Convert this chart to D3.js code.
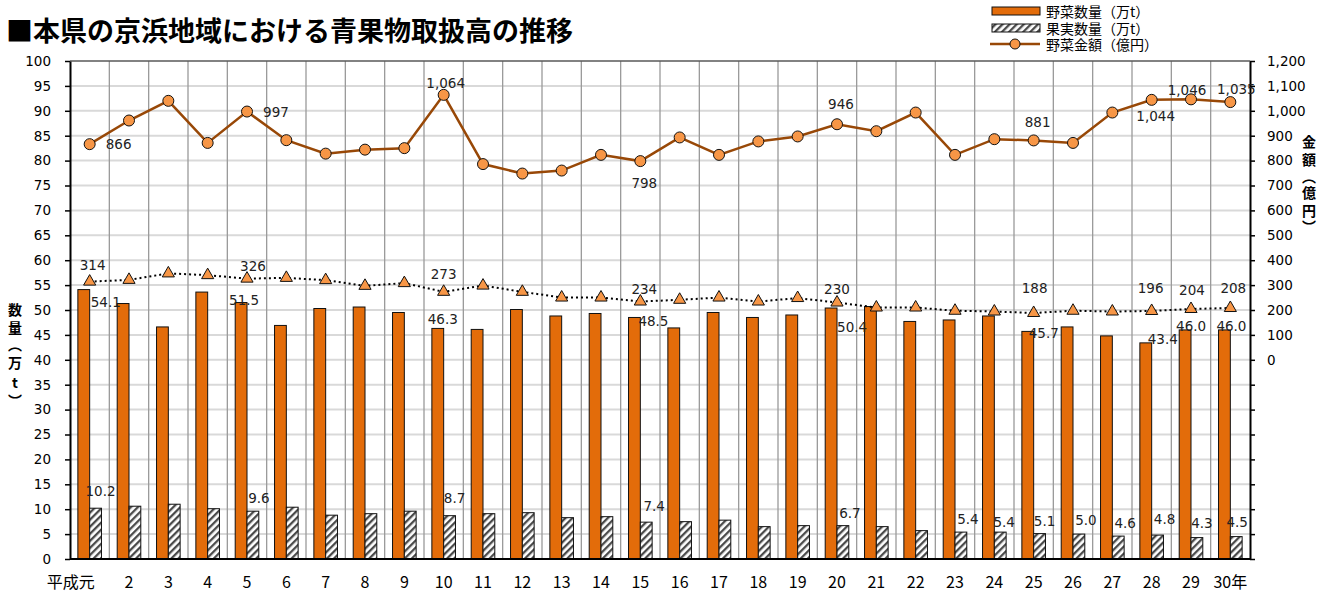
<!DOCTYPE html>
<html lang="ja">
<head>
<meta charset="UTF-8"/>
<title>本県の京浜地域における青果物取扱高の推移</title>
<script src="https://d3js.org/d3.v7.min.js"></script>
<style>
  body { margin: 0; background: #fff; }
  text { font-family: "DejaVu Sans", Verdana, sans-serif; }
  .jp { font-family: "Noto Sans CJK JP", sans-serif; }
</style>
</head>
<body>
<script>

// ---- data ----
var years = ["平成元", "2", "3", "4", "5", "6", "7", "8", "9", "10",
             "11", "12", "13", "14", "15", "16", "17", "18", "19", "20",
             "21", "22", "23", "24", "25", "26", "27", "28", "29", "30年"];

// 野菜数量 (万t)
var vegQty = [54.1, 51.3, 46.6, 53.6, 51.5, 46.9, 50.3, 50.6, 49.5, 46.3,
              46.1, 50.1, 48.8, 49.3, 48.5, 46.4, 49.5, 48.5, 49.0, 50.4,
              50.7, 47.7, 48.0, 48.8, 45.7, 46.6, 44.8, 43.4, 46.0, 46.0];

// 果実数量 (万t)
var fruitQty = [10.2, 10.6, 11.0, 10.1, 9.6, 10.4, 8.8, 9.1, 9.6, 8.7,
                9.1, 9.3, 8.3, 8.5, 7.4, 7.5, 7.8, 6.5, 6.7, 6.7,
                6.5, 5.7, 5.4, 5.4, 5.1, 5.0, 4.6, 4.8, 4.3, 4.5];

// 野菜金額 (億円)
var vegAmt = [866, 961, 1040, 871, 997, 882, 828, 844, 850, 1064,
              786, 748, 760, 823, 798, 893, 823, 877, 897, 946,
              918, 993, 823, 886, 881, 871, 993, 1044, 1046, 1035];

// 果実金額 (億円)
var fruitAmt = [314, 321, 347, 340, 326, 329, 320, 297, 308, 273,
                298, 273, 250, 250, 234, 241, 250, 234, 248, 230,
                210, 210, 197, 194, 188, 197, 194, 196, 204, 208];

var leftTicks = d3.range(0, 101, 5);
var rightTicks = d3.range(-800, 1201, 100);

var w = 1332;
var h = 595;

var pL = 70, pR = 1250, pT = 61, pB = 559;

var svg = d3.select("body")
            .append("svg")
            .attr("width", w)
            .attr("height", h);

var x = d3.scaleBand()
          .domain(d3.range(years.length))
          .range([pL, pR]);

var yL = d3.scaleLinear().domain([0, 100]).range([pB, pT]);
var yR = d3.scaleLinear().domain([-800, 1200]).range([pB, pT]);

var barW = x.bandwidth() * 0.3;
function cx(i) { return x(i) + x.bandwidth() / 2; }

// hatch pattern for 果実数量
var defs = svg.append("defs");
var pat = defs.append("pattern")
              .attr("id", "hatch")
              .attr("patternUnits", "userSpaceOnUse")
              .attr("width", 5)
              .attr("height", 5)
              .attr("patternTransform", "rotate(45)");
pat.append("rect").attr("width", 5).attr("height", 5).attr("fill", "#fff");
pat.append("rect").attr("width", 2.3).attr("height", 5).attr("fill", "#4a4a4a");

// title
svg.append("text")
   .attr("class", "jp")
   .attr("x", 6)
   .attr("y", 29)
   .attr("dominant-baseline", "central")
   .style("font-size", "27px")
   .style("font-weight", "bold")
   .text("■本県の京浜地域における青果物取扱高の推移");

// horizontal gridlines
svg.selectAll(".hgrid")
   .data(leftTicks.filter(function(d) { return d > 0 && d < 100; }))
   .enter()
   .append("line")
   .attr("x1", pL).attr("x2", pR)
   .attr("y1", function(d) { return yL(d); })
   .attr("y2", function(d) { return yL(d); })
   .attr("stroke", "#d9d9d9")
   .attr("stroke-width", 2);

// vertical gridlines between categories
svg.selectAll(".vgrid")
   .data(d3.range(1, years.length))
   .enter()
   .append("line")
   .attr("x1", function(d) { return x(d); })
   .attr("x2", function(d) { return x(d); })
   .attr("y1", pT).attr("y2", pB)
   .attr("stroke", "#9a9a9a")
   .attr("stroke-width", 1.3);

// top border
svg.append("line")
   .attr("x1", pL).attr("x2", pR)
   .attr("y1", pT).attr("y2", pT)
   .attr("stroke", "#595959")
   .attr("stroke-width", 1.5);

// bars
svg.selectAll(".veg")
   .data(vegQty)
   .enter()
   .append("rect")
   .attr("x", function(d, i) { return cx(i) - barW; })
   .attr("y", function(d) { return yL(d); })
   .attr("width", barW)
   .attr("height", function(d) { return pB - yL(d); })
   .attr("fill", "#e36c0a")
   .attr("stroke", "#111")
   .attr("stroke-width", 1);

svg.selectAll(".fruit")
   .data(fruitQty)
   .enter()
   .append("rect")
   .attr("x", function(d, i) { return cx(i); })
   .attr("y", function(d) { return yL(d); })
   .attr("width", barW)
   .attr("height", function(d) { return pB - yL(d); })
   .attr("fill", "url(#hatch)")
   .attr("stroke", "#111")
   .attr("stroke-width", 1);

// axes
var axL = svg.append("g")
             .attr("transform", "translate(" + pL + ",0)")
             .call(d3.axisLeft(yL).tickValues(leftTicks).tickSize(5).tickSizeOuter(0).tickPadding(14));
var axR = svg.append("g")
             .attr("transform", "translate(" + pR + ",0)")
             .call(d3.axisRight(yR).tickValues(rightTicks).tickSize(5).tickSizeOuter(0)
                     .tickPadding(12)
                     .tickFormat(function(d) { return d >= 0 ? d3.format(",")(d) : ""; }));
[axL, axR].forEach(function(g) {
  g.select(".domain").attr("stroke", "#000").attr("stroke-width", 2);
  g.selectAll(".tick line").attr("stroke", "#000").attr("stroke-width", 1.5);
  g.selectAll(".tick text").style("font-size", "13.5px").attr("fill", "#000");
});

svg.append("line")
   .attr("x1", pL).attr("x2", pR)
   .attr("y1", pB).attr("y2", pB)
   .attr("stroke", "#000")
   .attr("stroke-width", 2);

// category labels
svg.selectAll(".xlab")
   .data(years)
   .enter()
   .append("text")
   .attr("class", "jp")
   .attr("x", function(d, i) { return i === 0 ? cx(i) - 19 : cx(i); })
   .attr("y", 581)
   .attr("text-anchor", "middle")
   .attr("dominant-baseline", "central")
   .style("font-size", "16px")
   .text(function(d) { return d; });

// axis titles (vertical)
function vtitle(chars, xpos, ys) {
  svg.selectAll(null)
     .data(chars)
     .enter()
     .append("text")
     .attr("class", "jp")
     .attr("x", xpos)
     .attr("y", function(d, i) { return ys[i]; })
     .attr("text-anchor", "middle")
     .attr("dominant-baseline", "central")
     .style("font-size", "14px")
     .style("font-weight", "bold")
     .text(function(d) { return d; });
}
vtitle(["数", "量", "︵", "万", "t", "︶"], 15, [309, 327, 344, 362, 382, 400]);
vtitle(["金", "額", "︵", "億", "円", "︶"], 1309, [141, 159, 176, 192, 210, 226]);

// 果実金額 dotted line with triangles
svg.append("path")
   .datum(fruitAmt)
   .attr("fill", "none")
   .attr("stroke", "#000")
   .attr("stroke-width", 2)
   .attr("stroke-dasharray", "2,3")
   .attr("d", d3.line()
                .x(function(d, i) { return cx(i); })
                .y(function(d) { return yR(d); }));

svg.selectAll(".tri")
   .data(fruitAmt)
   .enter()
   .append("path")
   .attr("transform", function(d, i) { return "translate(" + cx(i) + "," + yR(d) + ")"; })
   .attr("d", d3.symbol(d3.symbolTriangle, 64))
   .attr("fill", "#f79646")
   .attr("stroke", "#111")
   .attr("stroke-width", 1);

// 野菜金額 line with circles
svg.append("path")
   .datum(vegAmt)
   .attr("fill", "none")
   .attr("stroke", "#984807")
   .attr("stroke-width", 2.5)
   .attr("d", d3.line()
                .x(function(d, i) { return cx(i); })
                .y(function(d) { return yR(d); }));

svg.selectAll(".dot")
   .data(vegAmt)
   .enter()
   .append("circle")
   .attr("cx", function(d, i) { return cx(i); })
   .attr("cy", function(d) { return yR(d); })
   .attr("r", 5.5)
   .attr("fill", "#f79646")
   .attr("stroke", "#111")
   .attr("stroke-width", 1);

// data labels: index -> [dx, dy] offsets from the mark
var vegAmtLab   = {0: [29, 0], 4: [29, 0], 9: [2, -12], 14: [4, 22], 19: [4, -20],
                   24: [4, -18], 27: [4, 16], 28: [-4, -9], 29: [6, -13]};
var fruitAmtLab = {0: [3, -17], 4: [6, -13], 9: [0, -18], 14: [4, -13], 19: [0, -14],
                   24: [1, -25], 27: [-1, -23], 28: [1, -19], 29: [3, -20]};
var vegQtyLab   = {0: [22, 12], 4: [3, -3], 9: [5, -9], 14: [19, 4], 19: [21, 19],
                   24: [16, 2], 27: [17, -4], 28: [6, -4], 29: [7, -4]};
var fruitQtyLab = {0: [5, -17], 4: [6, -13], 9: [5, -18], 14: [8, -16], 19: [7, -13],
                   22: [7, -13], 23: [4, -10], 24: [5, -13], 25: [7, -14], 26: [7, -13],
                   27: [7, -16], 28: [5, -15], 29: [1, -15]};

function labels(values, pos, xoff, yscale, fmt) {
  var idx = Object.keys(pos).map(Number);
  svg.selectAll(null)
     .data(idx)
     .enter()
     .append("text")
     .attr("x", function(i) { return cx(i) + xoff + pos[i][0]; })
     .attr("y", function(i) { return yscale(values[i]) + pos[i][1]; })
     .attr("text-anchor", "middle")
     .attr("dominant-baseline", "central")
     .style("font-size", "13.5px")
     .attr("fill", "#222")
     .text(function(i) { return fmt(values[i]); });
}
labels(vegAmt, vegAmtLab, 0, yR, d3.format(","));
labels(fruitAmt, fruitAmtLab, 0, yR, d3.format(","));
labels(vegQty, vegQtyLab, -barW / 2, yL, d3.format(".1f"));
labels(fruitQty, fruitQtyLab, barW / 2, yL, d3.format(".1f"));

// legend
var lg = svg.append("g");
lg.append("rect").attr("x", 992).attr("y", 7).attr("width", 48).attr("height", 8)
  .attr("fill", "#e36c0a").attr("stroke", "#111");
lg.append("rect").attr("x", 992).attr("y", 24).attr("width", 48).attr("height", 8)
  .attr("fill", "url(#hatch)").attr("stroke", "#111");
lg.append("line").attr("x1", 990).attr("x2", 1040).attr("y1", 44).attr("y2", 44)
  .attr("stroke", "#984807").attr("stroke-width", 2.5);
lg.append("circle").attr("cx", 1015).attr("cy", 44).attr("r", 5)
  .attr("fill", "#f79646").attr("stroke", "#111");
lg.selectAll(null)
  .data(["野菜数量（万t）", "果実数量（万t）", "野菜金額（億円）"])
  .enter()
  .append("text")
  .attr("class", "jp")
  .attr("x", 1046)
  .attr("y", function(d, i) { return [11, 27.5, 44][i]; })
  .attr("dominant-baseline", "central")
  .style("font-size", "14px")
  .text(function(d) { return d; });

</script>
</body>
</html>
